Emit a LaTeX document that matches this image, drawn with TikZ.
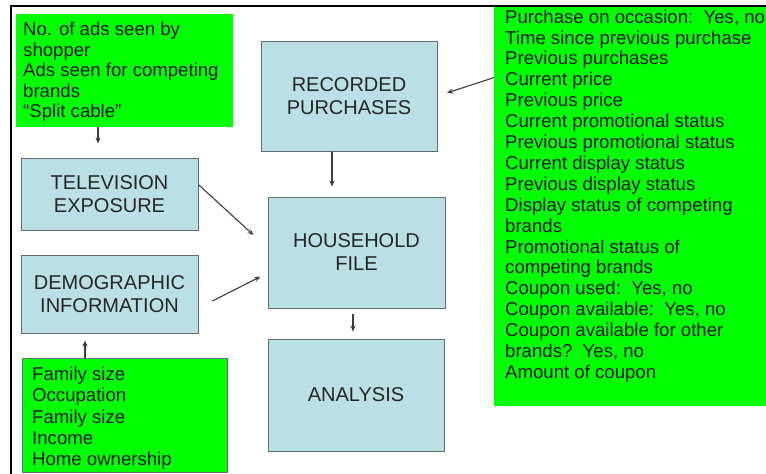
\documentclass[tikz,border=0pt]{standalone}
\usepackage{fontspec}
\setmainfont{Liberation Sans}
\usetikzlibrary{arrows.meta}
\definecolor{boxblue}{RGB}{186,223,228}
\definecolor{boxline}{RGB}{95,108,112}
\definecolor{lime}{RGB}{0,255,0}
\definecolor{arrowgray}{RGB}{60,60,60}
\tikzset{
  bluebox/.style={draw=boxline, line width=1pt, fill=boxblue, inner sep=0pt,
    align=center, text=black!85, font=\fontsize{20}{23}\selectfont},
  greenbox/.style={fill=lime, inner sep=0pt},
  greentext/.style={inner sep=0pt, anchor=north west, align=left, text=black!90},
  arr/.style={draw=arrowgray, line width=1.1pt, -{Stealth[length=6pt,width=5pt]}},
}
\begin{document}
\begin{tikzpicture}[x=1pt,y=-1pt]
\useasboundingbox (0,0) rectangle (766,474);
\clip (0,0) rectangle (766,474);
% green boxes
\node[greenbox, minimum width=217pt, minimum height=113pt] (G1) at (124.5,70.5) {};
\node[greenbox, draw=boxline, line width=0.8pt, minimum width=205pt, minimum height=114pt] (G2) at (124.5,415) {};
\node[greenbox, minimum width=276pt, minimum height=399pt] (G3) at (632,206.5) {};
% texts in green boxes
\node[greentext, font=\fontsize{18.6}{20.5}\selectfont] (T1) at (23,22) {No. of ads seen by\\shopper\\Ads seen for competing\\brands\\``Split cable''};
\node[greentext, font=\fontsize{18.6}{21.2}\selectfont] (T2) at (32,367) {Family size\\Occupation\\Family size\\Income\\Home ownership};
\node[greentext, font=\fontsize{18.6}{20.9}\selectfont] (T3) at (505,9.5) {Purchase on occasion:\ \ Yes, no\\Time since previous purchase\\Previous purchases\\Current price\\Previous price\\Current promotional status\\Previous promotional status\\Current display status\\Previous display status\\Display status of competing\\brands\\Promotional status of\\competing brands\\Coupon used:\ \ Yes, no\\Coupon available:\ \ Yes, no\\Coupon available for other\\brands?\ \ Yes, no\\Amount of coupon};
% blue boxes
\node[bluebox, minimum width=177pt, minimum height=72pt] (TV) at (109.5,194) {TELEVISION\\EXPOSURE};
\node[bluebox, minimum width=177pt, minimum height=78pt] (DEM) at (109.5,294) {DEMOGRAPHIC\\INFORMATION};
\node[bluebox, minimum width=176pt, minimum height=110pt] (RP) at (349,96) {RECORDED\\PURCHASES};
\node[bluebox, minimum width=177pt, minimum height=111pt] (HF) at (356.5,252.5) {HOUSEHOLD\\FILE};
\node[bluebox, minimum width=176pt, minimum height=112pt] (AN) at (356,395) {ANALYSIS};
% connectors
\draw[arr, shorten >=14pt] ([xshift=-26.5pt]G1.south) -- ([xshift=-26.5pt]G1.south |- TV.north);
\draw[arr, shorten >=7pt] ([xshift=-39.5pt]G2.north) -- ([xshift=-39.5pt]G2.north |- DEM.south);
\draw[arr, shorten >=10pt] ([xshift=-17pt]RP.south) -- ([xshift=-17pt]RP.south |- HF.north);
\draw[arr, shorten <=5pt, shorten >=7pt] ([xshift=-3.5pt]HF.south) -- ([xshift=-3.5pt]HF.south |- AN.north);
\draw[arr, shorten >=19pt] (TV.6) -- (HF.177);
\draw[arr, shorten <=15.5pt, shorten >=8pt] (DEM.-9) -- (HF.-167);
\draw[arr, shorten >=10pt] (G3.137) -- (RP.east);
% frame
\draw[black, line width=2pt] (11,474) -- (11,6) -- (766,6);
\end{tikzpicture}
\end{document}
